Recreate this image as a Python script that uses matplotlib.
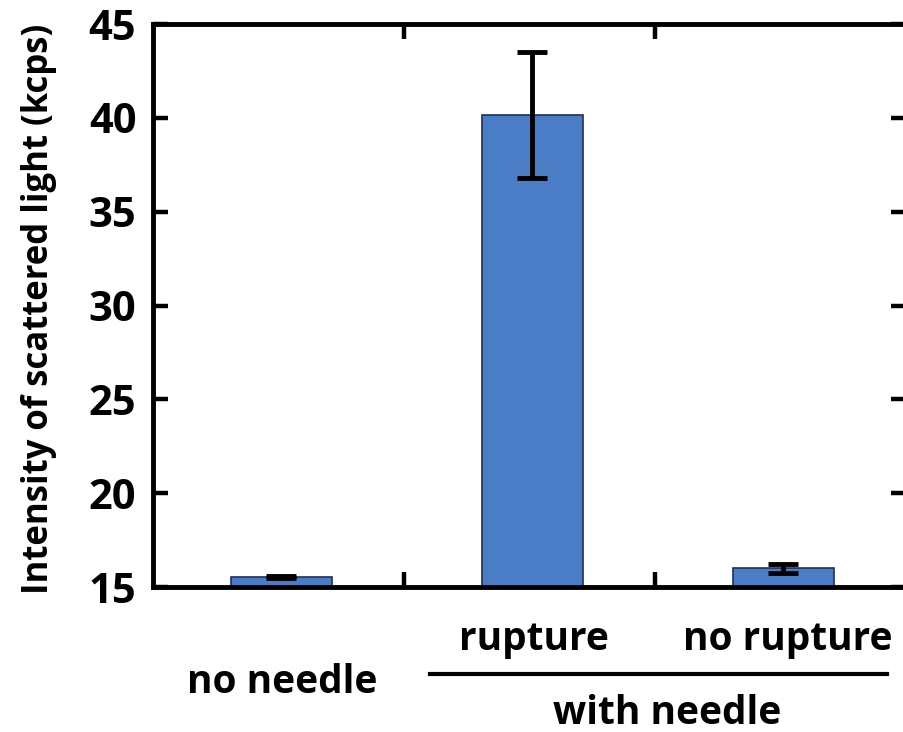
import numpy as np
import matplotlib.pyplot as plt
from matplotlib.lines import Line2D

plt.rcParams['font.family'] = ['Open Sans', 'DejaVu Sans']
plt.rcParams['font.weight'] = 'bold'

# data
groups = ["no needle", "rupture", "no rupture"]
means = [15.53, 40.15, 16.0]
errors = [0.05, 3.35, 0.25]
y_ticks = [15, 20, 25, 30, 35, 40, 45]

fig = plt.figure(figsize=(9.04, 7.32), dpi=100)
ax = fig.add_axes([0.1692, 0.198, 0.833, 0.769])

x = np.arange(len(groups))
ax.bar(x + 0.012, [m - 15 for m in means], bottom=15, width=0.4, color='#4a7dc6',
       edgecolor='#1f2f55', linewidth=1.2, zorder=2)
ax.errorbar(x + 0.012, means, yerr=errors, fmt='none', ecolor='black', elinewidth=3.5,
            capsize=11, capthick=3.5, zorder=3)

ax.set_xlim(-0.5, 2.5)
ax.set_ylim(15, 45)
ax.set_yticks(y_ticks)
ax.set_yticklabels([str(t) for t in y_ticks], fontsize=30, fontweight='bold')
ax.set_xticks([0.5, 1.5])
ax.set_xticklabels([])
ax.tick_params(axis='both', direction='in', length=11, width=3.2,
               top=True, right=True, pad=12)
for s in ax.spines.values():
    s.set_linewidth(3.5)
ax.set_ylabel('Intensity of scattered light (kcps)', fontsize=25, fontweight='bold')
ax.yaxis.set_label_coords(-0.128, 0.495)

# category labels under the axis
trans = ax.get_xaxis_transform()
ax.text(1.016, -0.094, "rupture", transform=trans, ha='center', va='center',
        fontsize=28, fontweight='bold')
ax.text(2.028, -0.094, "no rupture", transform=trans, ha='center', va='center',
        fontsize=28, fontweight='bold')
ax.text(0.016, -0.17, "no needle", transform=trans, ha='center', va='center',
        fontsize=28, fontweight='bold')
ax.text(1.548, -0.224, "with needle", transform=trans, ha='center', va='center',
        fontsize=28, fontweight='bold')
fig.add_artist(Line2D([430 / 904, 887 / 904], [1 - 674 / 732, 1 - 674 / 732],
                      transform=fig.transFigure, color='black', linewidth=3))

fig.savefig('out.png', dpi=100)
